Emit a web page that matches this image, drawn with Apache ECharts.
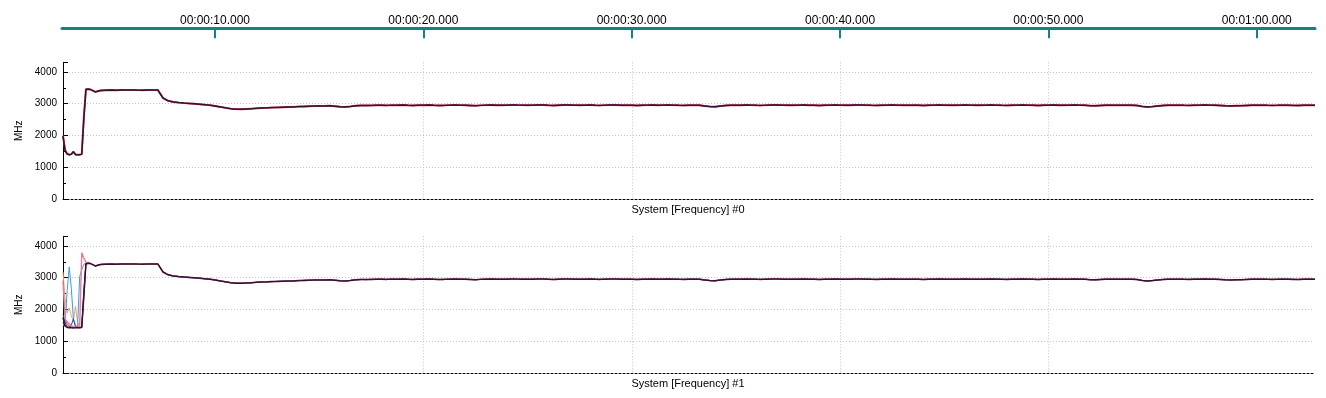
<!DOCTYPE html>
<html>
<head>
<meta charset="utf-8">
<script src="https://cdn.jsdelivr.net/npm/echarts@6/dist/echarts.min.js"></script>
<style>
html,body{margin:0;padding:0;background:#fff;}
#c{width:1326px;height:398px;}
</style>
</head>
<body>
<div id="c"></div>
<script>
// ---- data ----
const timelineTicks = [10, 20, 30, 40, 50, 60];
const headTimes = [2.7, 2.8, 2.9, 3.0, 3.1, 3.2, 3.3, 3.4, 3.5, 3.6, 3.7, 3.8, 3.9, 4.0];
const tailStart = 4.25, tailStep = 0.25;
// steady-state frequency trace (MHz), one value every 0.25 s from 4.25 s
const tailValues = [
  3370, 3415, 3425,
  3430, 3425, 3430, 3428,
  3432, 3427, 3425, 3430,
  3428, 3432, 3180, 3090,
  3055, 3035, 3020, 3010,
  3000, 2985, 2970, 2955,
  2930, 2900, 2870, 2845,
  2830, 2825, 2835, 2845,
  2855, 2865, 2870, 2878,
  2885, 2890, 2895, 2900,
  2910, 2915, 2920, 2925,
  2930, 2932, 2935, 2920,
  2905, 2900, 2915, 2935,
  2945, 2942, 2948, 2950,
  2952, 2948, 2955, 2950,
  2958, 2950, 2945, 2955,
  2952, 2958, 2950, 2945,
  2948, 2955, 2960, 2955,
  2950, 2945, 2940, 2948,
  2955, 2958, 2952, 2950,
  2955, 2962, 2958, 2955,
  2950, 2955, 2960, 2958,
  2950, 2945, 2952, 2958,
  2960, 2955, 2950, 2955,
  2958, 2952, 2948, 2955,
  2960, 2958, 2952, 2955,
  2950, 2945, 2950, 2955,
  2958, 2952, 2955, 2960,
  2955, 2950, 2948, 2952,
  2955, 2950, 2930, 2910,
  2905, 2925, 2945, 2950,
  2955, 2952, 2958, 2955,
  2950, 2948, 2955, 2958,
  2960, 2955, 2950, 2952,
  2955, 2958, 2952, 2950,
  2945, 2950, 2955, 2958,
  2955, 2950, 2952, 2958,
  2960, 2955, 2950, 2948,
  2952, 2955, 2958, 2955,
  2950, 2952, 2955, 2950,
  2945, 2950, 2955, 2958,
  2955, 2950, 2952, 2955,
  2958, 2955, 2950, 2952,
  2955, 2958, 2955, 2950,
  2948, 2952, 2955, 2958,
  2955, 2950, 2945, 2950,
  2955, 2958, 2952, 2950,
  2955, 2958, 2955, 2950,
  2940, 2935, 2945, 2950,
  2955, 2952, 2950, 2955,
  2950, 2945, 2915, 2900,
  2910, 2930, 2945, 2950,
  2952, 2955, 2950, 2948,
  2952, 2955, 2958, 2955,
  2950, 2945, 2935, 2930,
  2935, 2940, 2945, 2950,
  2952, 2955, 2950, 2948,
  2950, 2955, 2952, 2948,
  2945, 2950, 2955, 2952,
  2950
];
// start-up segments (MHz) at headTimes
const top0DarkHead = [1980, 1520, 1420, 1400, 1410, 1490, 1400, 1395, 1400, 1410, 2500, 3440, 3455, 3450];
const top0RedHead  = [2000, 1560, 1430, 1405, 1420, 1500, 1410, 1400, 1405, 1420, 2600, 3460, 3465, 3455];
const b1DarkHead   = [1750, 1480, 1440, 1430, 1430, 1425, 1430, 1435, 1430, 1440, 2450, 3430, 3455, 3450];
const b1PinkHead   = [2900, 1700, 1620, 1550, 1500, 1460, 1450, 1450, 1480, 3780, 3620, 3490, 3460, 3450];
const b1OrangeHead = [3185, 2350, 1900, 2050, 1800, 1650, 2110, 1600, 1450, 1450, 2300, 3400, 3455, 3450];
const b1LBlueHead  = [1500, 1550, 2600, 3340, 2650, 1700, 1500, 1450, 3030, 3250, 3420, 3455, 3460, 3450];
const b1DBlueHead  = [1850, 1600, 1460, 1430, 1520, 1700, 1460, 1430, 1430, 1440, 2500, 3440, 3455, 3450];
const b1RedHead    = [1600, 1700, 1560, 1480, 1450, 1440, 1440, 1440, 1450, 1460, 2600, 3450, 3460, 3452];
const b1TealHead   = [1550, 1520, 1480, 1460, 1450, 1440, 1440, 1440, 1440, 1450, 2400, 3420, 3455, 3450];

// ---- build ----
function build(head) {
  const out = head.map((v, i) => [headTimes[i], v]);
  tailValues.forEach((v, i) => out.push([+(tailStart + i * tailStep).toFixed(2), v]));
  return out;
}
function fmtTime(s) {
  const m = Math.floor(s / 60), sec = Math.round(s - m * 60);
  const p = n => String(n).padStart(2, '0');
  return '00:' + p(m) + ':' + p(sec) + '.000';
}
const FONT = 'Liberation Sans, Arial, sans-serif';
const TEAL = '#128282';
const GRIDC = '#c4c4c4';
const X0 = 2.70, X1 = 62.70;

function plotX(idx, name) {
  return {
    gridIndex: idx, type: 'value', min: X0, max: X1,
    axisLine: { show: true, onZero: false, lineStyle: { color: '#000', type: [2, 2], width: 1 } },
    axisTick: { show: false, customValues: timelineTicks },
    axisLabel: { show: false, customValues: timelineTicks },
    splitLine: { show: true, showMinLine: false, showMaxLine: false, lineStyle: { color: GRIDC, type: [1, 2] } },
    name: name, nameLocation: 'middle', nameGap: 5,
    nameTextStyle: { fontFamily: FONT, fontSize: 11, color: '#000', verticalAlign: 'top' }
  };
}
function plotY(idx) {
  return {
    gridIndex: idx, type: 'value', min: 0, max: 4300, interval: 1000,
    axisLine: { show: true, lineStyle: { color: '#000', width: 1 } },
    axisTick: { show: true, inside: true, length: 5, lineStyle: { color: '#000' } },
    minorTick: { show: true, splitNumber: 2, length: 3, lineStyle: { color: '#000' } },
    axisLabel: { fontFamily: FONT, fontSize: 10, color: '#000', margin: 6, showMaxLabel: false,
                 formatter: v => String(v) },
    splitLine: { show: true, showMaxLine: false, showMinLine: false, lineStyle: { color: GRIDC, type: [1, 2] } },
    name: 'MHz', nameLocation: 'middle', nameGap: 38,
    nameTextStyle: { fontFamily: FONT, fontSize: 10, color: '#000' }
  };
}
function ser(xi, head, color, w, z) {
  return {
    type: 'line', xAxisIndex: xi, yAxisIndex: xi, data: build(head),
    showSymbol: false, symbol: 'none', animation: false, z: z,
    lineStyle: { color: color, width: w }, emphasis: { disabled: true }
  };
}

const option = {
  animation: false,
  backgroundColor: '#fff',
  grid: [
    { left: 62, top: 28.3, width: 1253, height: 20 },
    { left: 63, top: 62.3, width: 1250, height: 137 },
    { left: 63, top: 236.3, width: 1250, height: 137 }
  ],
  xAxis: [
    {
      gridIndex: 0, type: 'value', min: 2.656, max: 62.796, position: 'top',
      axisLine: { show: true, onZero: false, lineStyle: { color: TEAL, width: 3 } },
      axisTick: { show: true, inside: true, length: 10, customValues: timelineTicks, lineStyle: { color: TEAL, width: 2 } },
      axisLabel: { show: true, customValues: timelineTicks, formatter: fmtTime, fontFamily: FONT, fontSize: 12, color: '#000', margin: 2 },
      splitLine: { show: false }
    },
    plotX(1, 'System [Frequency] #0'),
    plotX(2, 'System [Frequency] #1')
  ],
  yAxis: [
    { gridIndex: 0, type: 'value', show: false },
    plotY(1),
    plotY(2)
  ],
  series: [
    ser(1, top0RedHead, '#c8345a', 1.9, 2),
    ser(1, top0DarkHead, '#3a1030', 1.5, 3),
    ser(2, b1TealHead, '#3ea892', 1, 2),
    ser(2, b1RedHead, '#d4203e', 1, 2),
    ser(2, b1OrangeHead, '#e8a468', 1, 2),
    ser(2, b1LBlueHead, '#3a9ee0', 1, 2),
    ser(2, b1DBlueHead, '#24409c', 1, 2),
    ser(2, b1PinkHead, '#e47c9c', 1.4, 2),
    ser(2, b1DarkHead, '#3a1030', 1.5, 3)
  ]
};
const chart = echarts.init(document.getElementById('c'), null, { renderer: 'canvas' });
chart.setOption(option);
</script>
</body>
</html>
